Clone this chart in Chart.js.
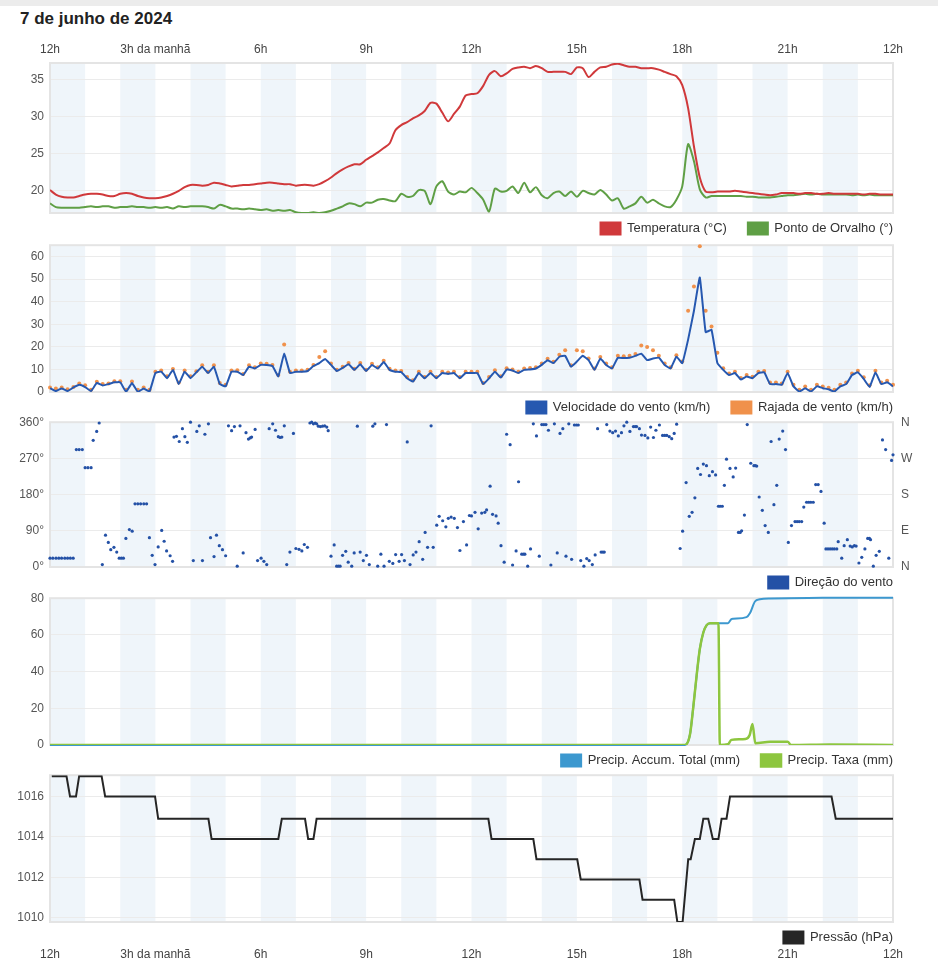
<!DOCTYPE html>
<html>
<head>
<meta charset="utf-8">
<script src="https://cdn.jsdelivr.net/npm/chart.js@4.4.1/dist/chart.umd.min.js"></script>
<style>
  body { margin: 0; background: #fff; font-family: "Liberation Sans", Arial, sans-serif; overflow: hidden; }
  #topbar { position: absolute; left: 0; top: 0; width: 938px; height: 6px; background: #ececec; }
  h1 { position: absolute; left: 20px; top: 9px; margin: 0; font-size: 17px; font-weight: bold; color: #222; }
  canvas { position: absolute; left: 0; }
</style>
</head>
<body>
<div id="topbar"></div>
<h1>7 de junho de 2024</h1>
<canvas id="tempChart" width="938" height="219" style="top:38px"></canvas>
<canvas id="windChart" width="938" height="204" style="top:232px"></canvas>
<canvas id="dirChart" width="938" height="204" style="top:407px"></canvas>
<canvas id="precipChart" width="938" height="204" style="top:585px"></canvas>
<canvas id="pressureChart" width="938" height="204" style="top:762px"></canvas>
<canvas id="bottomAxis" width="938" height="30" style="top:943px"></canvas>
<script>
const hourLabels = ['12h', '3h da manhã', '6h', '9h', '12h', '15h', '18h', '21h', '12h'];
const compassLabels = ['N', 'E', 'S', 'W', 'N'];

// readings every 10 minutes from midnight, one row per hour
const STEP_H = 1 / 6;

const temperature = [
  20.1, 19.5, 19.2, 19.1, 19.1, 19.3,
  19.5, 19.6, 19.6, 19.5, 19.3, 19.3,
  19.6, 19.7, 19.6, 19.3, 19.1, 19.0,
  19.0, 19.1, 19.3, 19.6, 20.0, 20.5,
  20.8, 20.8, 20.7, 20.8, 21.1, 21.0,
  20.8, 20.6, 20.7, 20.8, 20.8, 20.9,
  21.0, 21.1, 21.1, 21.0, 20.9, 20.9,
  20.7, 20.8, 20.8, 20.7, 20.9, 21.3,
  21.8, 22.4, 22.9, 23.3, 23.6, 23.6,
  24.2, 24.7, 25.2, 25.8, 26.4, 28.2,
  28.9, 29.3, 29.8, 30.2, 30.8, 31.9,
  31.8, 30.6, 29.4, 30.4, 31.4, 32.9,
  33.1, 33.2, 34.2, 35.7, 36.2, 35.5,
  35.9, 36.5, 36.7, 36.8, 36.6, 36.9,
  36.6, 36.1, 36.1, 36.1, 36.1, 35.8,
  36.7, 36.6, 35.4, 36.1, 36.7, 36.8,
  37.1, 37.2, 37.0, 36.8, 36.8, 36.6,
  36.6, 36.6, 36.4, 36.1, 35.8, 35.5,
  34.3, 31.2, 26.0, 21.8, 19.9, 19.8,
  19.9, 19.9, 19.9, 20.0, 19.9, 19.8,
  19.7, 19.6, 19.5, 19.4, 19.5, 19.7,
  19.7, 19.7, 19.6, 19.7, 19.7, 19.6,
  19.6, 19.7, 19.6, 19.6, 19.6, 19.6,
  19.6, 19.5, 19.6, 19.6, 19.5, 19.5,
  19.5
];

const dewPoint = [
  18.3, 17.8, 17.7, 17.7, 17.7, 17.7,
  17.8, 17.9, 17.8, 17.9, 17.9, 17.7,
  17.8, 17.8, 17.9, 17.8, 17.8, 17.7,
  17.8, 17.7, 17.8, 17.6, 17.9, 17.8,
  17.9, 17.9, 17.9, 17.8, 17.6, 18.1,
  17.9, 17.6, 17.6, 17.5, 17.6, 17.5,
  17.4, 17.5, 17.3, 17.4, 17.3, 17.4,
  17.1, 17.0, 17.0, 17.1, 17.0, 17.1,
  17.3, 17.6, 17.9, 18.3, 18.2, 17.9,
  18.4, 18.4, 18.8, 18.9, 18.7, 18.6,
  19.6, 19.2, 19.3, 20.1, 20.0, 18.2,
  20.6, 21.3, 19.9, 19.5, 19.9, 19.8,
  20.4, 19.7, 18.8, 17.2, 20.3, 19.9,
  20.0, 20.6, 19.7, 21.1, 19.8, 20.5,
  19.4, 19.0, 19.7, 19.9, 19.3, 19.9,
  19.2, 20.0, 19.7, 19.5, 20.1, 19.5,
  18.7, 19.0, 17.6, 17.9, 18.3, 19.2,
  18.4, 18.8, 18.3, 17.9, 17.8, 18.8,
  20.6, 26.3, 24.0, 20.2, 19.1, 19.3,
  19.3, 19.3, 19.3, 19.3, 19.3, 19.2,
  19.2, 19.1, 19.1, 19.1, 19.2, 19.3,
  19.4, 19.4, 19.5, 19.6, 19.5, 19.6,
  19.5, 19.5, 19.5, 19.5, 19.5, 19.4,
  19.5, 19.4, 19.5, 19.4, 19.4, 19.4,
  19.4
];

const windSpeed = [
  1.7, 0.4, 1.6, 0.4, 2.0, 3.2,
  2.2, 0.4, 4.0, 2.9, 3.5, 4.3,
  4.3, 0.1, 4.0, 0.1, 1.6, 0.2,
  8.4, 9.0, 6.1, 9.8, 3.5, 9.0,
  6.1, 8.7, 11.2, 8.4, 11.2, 3.5,
  2.5, 9.0, 9.0, 7.5, 11.2, 10.4,
  12.0, 12.0, 11.5, 6.9, 17.0, 8.4,
  9.0, 9.0, 9.3, 11.5, 12.8, 14.6,
  12.0, 9.3, 10.7, 12.3, 9.8, 12.3,
  9.3, 12.0, 10.4, 13.3, 9.8, 9.0,
  8.8, 6.1, 4.6, 8.4, 6.1, 8.4,
  6.1, 8.4, 8.0, 8.4, 6.1, 8.4,
  8.4, 8.4, 3.5, 6.1, 9.0, 6.4,
  9.9, 9.5, 8.4, 9.8, 10.0, 10.4,
  12.0, 14.1, 12.8, 15.6, 16.0, 11.2,
  13.5, 16.0, 14.1, 9.8, 14.8, 12.0,
  10.4, 15.2, 15.0, 15.2, 16.0, 17.0,
  14.1, 14.8, 15.2, 12.0, 10.4, 15.6,
  12.8, 23.2, 36.0, 50.7, 26.5, 27.5,
  12.8, 9.8, 7.5, 8.4, 5.5, 6.9,
  6.1, 8.4, 8.7, 3.5, 3.5, 3.2,
  8.4, 2.5, 0.2, 1.7, 0.2, 2.5,
  1.7, 1.2, 0.2, 2.5, 3.5, 7.5,
  8.7, 5.8, 2.2, 8.7, 3.5, 4.3,
  2.5
];

const windGust = [
  2.0, 1.5, 2.0, 1.2, 2.2, 3.8,
  3.0, 1.0, 4.5, 3.5, 3.8, 4.8,
  4.8, 1.0, 4.6, 1.0, 2.0, 1.0,
  9.0, 9.5, 7.0, 10.2, 4.2, 9.5,
  7.0, 9.2, 11.8, 9.0, 11.8, 4.0,
  3.2, 9.5, 9.6, 8.0, 11.8, 11.0,
  12.6, 12.5, 12.0, 7.5, 21.0, 9.0,
  9.5, 9.5, 9.8, 12.0, 15.5, 18.0,
  12.6, 9.8, 11.2, 12.8, 10.3, 12.8,
  9.8, 12.5, 11.0, 13.8, 10.3, 9.5,
  9.3, 6.6, 5.2, 9.0, 6.6, 9.0,
  6.6, 9.0, 8.6, 9.0, 6.6, 9.0,
  9.0, 9.0, 4.0, 6.6, 9.6, 7.0,
  10.5, 10.0, 9.0, 10.4, 10.6, 11.0,
  12.6, 14.7, 13.4, 16.5, 18.5, 11.8,
  18.5, 18.0, 14.8, 10.4, 15.5, 12.6,
  11.0, 16.0, 15.8, 16.0, 16.8, 20.6,
  19.9, 18.5, 16.0, 12.6, 11.0, 16.3,
  13.5, 36.0, 46.7, 64.5, 36.0, 29.0,
  17.4, 10.5, 8.2, 9.0, 6.2, 7.5,
  6.8, 9.0, 9.3, 4.2, 4.2, 3.8,
  9.0, 3.2, 1.0, 2.4, 1.0, 3.2,
  2.4, 1.9, 1.0, 3.2, 4.2, 8.2,
  9.4, 6.5, 3.0, 9.4, 4.2, 5.0,
  3.2
];

// [hour, degrees]
const windDirection = [
  [0.00, 22], [0.08, 22], [0.17, 22], [0.25, 22], [0.33, 22], [0.42, 22], [0.50, 22], [0.58, 22], [0.66, 22],
  [0.75, 292], [0.83, 292], [0.92, 292], [1.00, 247], [1.08, 247], [1.17, 247],
  [1.23, 315], [1.33, 337], [1.40, 358], [1.49, 6], [1.58, 79], [1.66, 61], [1.73, 43], [1.82, 49], [1.90, 37],
  [1.97, 22], [2.03, 22], [2.09, 22], [2.16, 71], [2.26, 93], [2.34, 89],
  [2.42, 157], [2.50, 157], [2.58, 157], [2.67, 157], [2.75, 157],
  [2.83, 73], [2.91, 29], [2.99, 6], [3.08, 50], [3.18, 91], [3.25, 64], [3.32, 40], [3.42, 28], [3.49, 14],
  [3.53, 323], [3.60, 325], [3.68, 312], [3.77, 344], [3.84, 324], [3.91, 310], [4.00, 360],
  [4.08, 16], [4.18, 337], [4.25, 351], [4.34, 16], [4.41, 330], [4.51, 356], [4.57, 73], [4.67, 26], [4.74, 79],
  [4.82, 53], [4.91, 43], [5.00, 28], [5.08, 351], [5.17, 339], [5.25, 349], [5.33, 2], [5.41, 351], [5.50, 35],
  [5.58, 334], [5.65, 318], [5.70, 321], [5.74, 323], [5.84, 342], [5.91, 16], [6.01, 22], [6.09, 14], [6.17, 6],
  [6.24, 344], [6.34, 356], [6.42, 340], [6.50, 324], [6.55, 322], [6.60, 323], [6.67, 351], [6.74, 6], [6.83, 37],
  [6.93, 332], [7.00, 46], [7.09, 44], [7.17, 40], [7.24, 56], [7.33, 49],
  [7.40, 358], [7.45, 360], [7.50, 356], [7.55, 358], [7.59, 356], [7.64, 350], [7.70, 349], [7.76, 350],
  [7.82, 351], [7.88, 348], [7.92, 339], [8.00, 27], [8.09, 55], [8.16, 2], [8.21, 2], [8.26, 2], [8.33, 29],
  [8.42, 39], [8.49, 12], [8.59, 2], [8.66, 35], [8.75, 350], [8.83, 37], [8.92, 16], [9.01, 29], [9.09, 6],
  [9.19, 350], [9.25, 356], [9.33, 2], [9.42, 32], [9.51, 2], [9.58, 354], [9.66, 14], [9.76, 9], [9.84, 31],
  [9.94, 14], [10.01, 31], [10.09, 16], [10.17, 311], [10.25, 6], [10.34, 30], [10.42, 37], [10.51, 63],
  [10.61, 19], [10.68, 86], [10.75, 49], [10.85, 351], [10.91, 49],
  [11.01, 104], [11.08, 126], [11.18, 115], [11.27, 100], [11.34, 121], [11.42, 124], [11.51, 121], [11.60, 98],
  [11.67, 41], [11.77, 113], [11.86, 55], [11.94, 128], [12.00, 127], [12.10, 136], [12.19, 95], [12.29, 134],
  [12.38, 136], [12.43, 142], [12.53, 201], [12.60, 131], [12.70, 127], [12.76, 109], [12.84, 53], [12.93, 12],
  [13.00, 330], [13.10, 304], [13.17, 5], [13.27, 40], [13.34, 212], [13.43, 32], [13.48, 32], [13.52, 32],
  [13.60, 2], [13.68, 45], [13.76, 356], [13.85, 326], [13.93, 27], [14.00, 354], [14.06, 354], [14.12, 354],
  [14.19, 340], [14.26, 5], [14.36, 356], [14.44, 35], [14.52, 332], [14.60, 344], [14.69, 27], [14.77, 356],
  [14.85, 19], [14.93, 353], [14.99, 353], [15.04, 353], [15.11, 16], [15.20, 2], [15.28, 21], [15.35, 16],
  [15.44, 6], [15.52, 30], [15.59, 344], [15.69, 37], [15.74, 37], [15.78, 37], [15.85, 354], [15.94, 338],
  [16.02, 334], [16.10, 338], [16.18, 326], [16.27, 334], [16.34, 351], [16.42, 360], [16.51, 337], [16.61, 349],
  [16.66, 349], [16.70, 349], [16.78, 344], [16.84, 328], [16.94, 327], [17.02, 321], [17.10, 348], [17.18, 322],
  [17.25, 340], [17.35, 353], [17.44, 327], [17.50, 327], [17.56, 327], [17.63, 324], [17.70, 319], [17.77, 332],
  [17.84, 355], [17.94, 46], [18.01, 89], [18.11, 210], [18.20, 126], [18.28, 136], [18.36, 172], [18.44, 245],
  [18.52, 230], [18.60, 256], [18.69, 252], [18.77, 227], [18.86, 237], [18.95, 229], [19.03, 151], [19.08, 151],
  [19.14, 151], [19.20, 203], [19.26, 268], [19.36, 245], [19.45, 224], [19.52, 246], [19.60, 86], [19.65, 86],
  [19.69, 90], [19.77, 129], [19.85, 354], [19.95, 258], [20.04, 252], [20.08, 252], [20.12, 251], [20.19, 174],
  [20.28, 141], [20.36, 103], [20.45, 86], [20.53, 312], [20.61, 155], [20.69, 203], [20.76, 318], [20.86, 338],
  [20.94, 292], [21.02, 61], [21.11, 103], [21.21, 113], [21.27, 113], [21.33, 113], [21.40, 113], [21.46, 149],
  [21.54, 161], [21.60, 161], [21.66, 161], [21.73, 161], [21.80, 205], [21.87, 205], [21.95, 188], [22.04, 109],
  [22.09, 45], [22.15, 45], [22.21, 45], [22.27, 45], [22.33, 45], [22.40, 45], [22.44, 63], [22.54, 22],
  [22.61, 53], [22.70, 68], [22.78, 52], [22.84, 50], [22.90, 53], [22.95, 52], [23.03, 10], [23.11, 24],
  [23.20, 45], [23.28, 71], [23.33, 71], [23.36, 68], [23.44, 2], [23.52, 29], [23.61, 39], [23.70, 316],
  [23.79, 292], [23.88, 22], [23.96, 265], [24.00, 279]
];

// [hour, mm]
const precipTotal = [
  [0, 0], [18.08, 0], [18.22, 5.7], [18.31, 20], [18.41, 38], [18.5, 52.3], [18.6, 61.3], [18.69, 65.2],
  [18.79, 66.3], [19.3, 66.4], [19.4, 68.6], [19.45, 68.8], [19.83, 69.7], [19.93, 71.9], [20.07, 78.2],
  [20.21, 79.4], [20.5, 79.9], [22.0, 80.2], [24.0, 80.3]
];
const precipRate = [
  [0, 0], [18.08, 0], [18.22, 5.7], [18.31, 20], [18.41, 38], [18.5, 52.3], [18.6, 61.3], [18.69, 65.2],
  [18.79, 66.3], [19.03, 66.3], [19.07, 0], [19.3, 0.4], [19.4, 2.8], [19.8, 3.3], [19.92, 5.5], [20.0, 11.5],
  [20.08, 1.0], [20.5, 1.8], [21.0, 1.8], [21.1, 0], [22.2, 0.3], [24.0, 0]
];

// [hour, hPa]
const pressure = [
  [0.05, 1017.0], [0.47, 1017.0], [0.57, 1016.0], [0.74, 1016.0], [0.83, 1017.0], [1.47, 1017.0], [1.57, 1016.0],
  [2.99, 1016.0], [3.08, 1014.9], [4.51, 1014.9], [4.60, 1013.9], [6.50, 1013.9], [6.60, 1014.9], [7.26, 1014.9],
  [7.35, 1013.9], [7.50, 1013.9], [7.59, 1014.9], [12.48, 1014.9], [12.57, 1013.9], [13.76, 1013.9],
  [13.85, 1012.9], [15.01, 1012.9], [15.11, 1011.9], [16.78, 1011.9], [16.87, 1010.9], [17.77, 1010.9],
  [17.86, 1009.8], [18.01, 1009.8], [18.17, 1012.9], [18.24, 1012.9], [18.36, 1013.9], [18.50, 1013.9],
  [18.60, 1014.9], [18.74, 1014.9], [18.87, 1013.9], [19.03, 1013.9], [19.12, 1014.9], [19.26, 1014.9],
  [19.36, 1016.0], [22.25, 1016.0], [22.37, 1014.9], [24.00, 1014.9]
];

Chart.defaults.font.family = '"Liberation Sans", Arial, sans-serif';
Chart.defaults.color = '#555';

const onGrid = values => values.map((v, i) => ({ x: i * STEP_H, y: v }));
const fromPairs = pairs => pairs.map(([h, v]) => ({ x: h, y: v }));

// shaded band on every other hour
const hourBands = {
  id: 'hourBands',
  beforeDraw(chart) {
    const { ctx, chartArea: a, scales: { x } } = chart;
    ctx.save();
    ctx.fillStyle = '#eff5fa';
    for (let h = 0; h < 24; h += 2) {
      const l = x.getPixelForValue(h);
      const r = x.getPixelForValue(h + 1);
      ctx.fillRect(l, a.top, r - l, a.bottom - a.top);
    }
    ctx.restore();
  }
};

const plotFrame = {
  id: 'plotFrame',
  beforeDatasetsDraw(chart) {
    const { ctx, chartArea: a } = chart;
    ctx.save();
    ctx.strokeStyle = '#e4e4e4';
    ctx.lineWidth = 2;
    ctx.strokeRect(a.left, a.top, a.right - a.left, a.bottom - a.top);
    ctx.restore();
  }
};

// wide gap between legend items, but keep the row close under the plot
// and end the last label at the plot's right edge
const LEGEND_GAP = 21;
const LEGEND_TOP = 9;
const legendNudge = {
  id: 'legendNudge',
  afterLayout(chart) {
    const l = chart.legend;
    if (!l) return;
    const dx = chart.chartArea.right + LEGEND_GAP - l.right;
    const dy = LEGEND_TOP - LEGEND_GAP;
    l.left += dx; l.right += dx;
    l.top += dy; l.bottom += dy;
  }
};

const legendOpts = {
  position: 'bottom',
  align: 'end',
  fullSize: false,
  labels: {
    boxWidth: 20, boxHeight: 12, padding: LEGEND_GAP, color: '#333', font: { size: 13 },
    sort: (a, b) => a.datasetIndex - b.datasetIndex
  }
};

function yAxis(min, max, step, fmt) {
  return {
    min, max,
    ticks: { stepSize: step, includeBounds: false, padding: 6, color: '#555', font: { size: 12 }, callback: fmt || (v => String(v)) },
    grid: { color: '#ebebeb', drawTicks: false },
    border: { display: false },
    afterFit: s => { s.width = 50; }
  };
}

// hour labels, drawn above the plot they belong to
const timeAxis = {
  type: 'linear', min: 0, max: 24, position: 'top',
  ticks: { stepSize: 3, autoSkip: false, maxRotation: 0, padding: 6, color: '#444', font: { size: 12 }, callback: v => hourLabels[v / 3] },
  grid: { display: false, drawTicks: false },
  border: { display: false },
  afterFit: s => { s.height = 25; }
};

const hiddenX = { type: 'linear', min: 0, max: 24, display: false };

function makeChart(id, datasets, scales, padding) {
  return new Chart(document.getElementById(id), {
    type: 'line',
    data: { datasets },
    options: {
      responsive: false,
      animation: false,
      layout: { padding: Object.assign({ top: 10, right: 45, left: 0, bottom: 0 }, padding) },
      elements: { point: { radius: 0 }, line: { borderWidth: 2 } },
      scales,
      plugins: { legend: legendOpts, tooltip: { enabled: false } }
    },
    plugins: [hourBands, plotFrame, legendNudge]
  });
}

makeChart('tempChart', [
  { label: 'Temperatura (°C)', data: onGrid(temperature), borderColor: '#d0393b', backgroundColor: '#d0393b', tension: 0.25 },
  { label: 'Ponto de Orvalho (°)', data: onGrid(dewPoint), borderColor: '#5f9f45', backgroundColor: '#5f9f45', tension: 0.25 }
], {
  x: timeAxis,
  y: yAxis(17, 37.3, 5)
}, { top: 0 });

makeChart('windChart', [
  { label: 'Velocidade do vento (km/h)', data: onGrid(windSpeed), borderColor: '#2658b0', backgroundColor: '#2658b0', tension: 0.1 },
  { label: 'Rajada de vento (km/h)', data: onGrid(windGust), showLine: false, clip: false,
    borderColor: '#f0914b', backgroundColor: '#f0914b', pointRadius: 2, pointBorderWidth: 0 }
], { x: hiddenX, y: yAxis(0, 65, 10) });

makeChart('dirChart', [
  { label: 'Direção do vento', data: fromPairs(windDirection), showLine: false, clip: false,
    borderColor: '#2451a6', backgroundColor: '#2451a6', pointRadius: 1.6, pointBorderWidth: 0 }
], {
  x: hiddenX,
  y: yAxis(0, 360, 90, v => v + '°'),
  compass: {
    position: 'right', min: 0, max: 360,
    ticks: { stepSize: 90, padding: 8, color: '#555', font: { size: 12 }, callback: v => compassLabels[v / 90] },
    grid: { display: false, drawTicks: false },
    border: { display: false },
    afterFit: s => { s.width = 45; }
  }
}, { right: 0 });

makeChart('precipChart', [
  { label: 'Precip. Accum. Total (mm)', data: fromPairs(precipTotal), borderColor: '#3c98cf', backgroundColor: '#3c98cf',
    cubicInterpolationMode: 'monotone', clip: false, order: 1 },
  { label: 'Precip. Taxa (mm)', data: fromPairs(precipRate), borderColor: '#8dc63f', backgroundColor: '#8dc63f',
    borderWidth: 2.5, cubicInterpolationMode: 'monotone', order: 0 }
], { x: hiddenX, y: yAxis(0, 80, 20) });

makeChart('pressureChart', [
  { label: 'Pressão (hPa)', data: fromPairs(pressure), borderColor: '#262626', backgroundColor: '#262626' }
], { x: hiddenX, y: yAxis(1009.8, 1017.05, 2) });

// the shared time axis repeated under the last panel
new Chart(document.getElementById('bottomAxis'), {
  type: 'line',
  data: { datasets: [] },
  options: {
    responsive: false,
    animation: false,
    layout: { padding: { top: 0, right: 45, left: 50, bottom: 0 } },
    scales: { x: timeAxis, y: { display: false, min: 0, max: 1 } },
    plugins: { legend: { display: false }, tooltip: { enabled: false } }
  }
});
</script>
</body>
</html>
